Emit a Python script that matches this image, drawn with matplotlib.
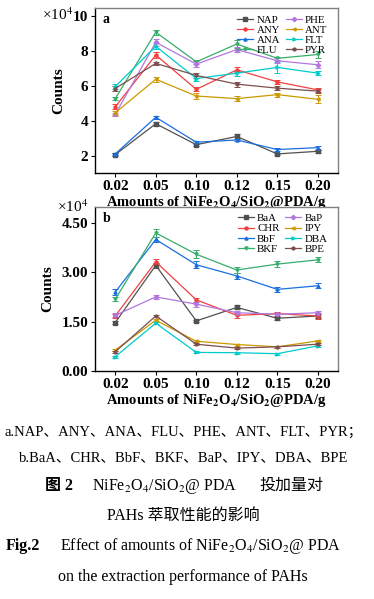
import matplotlib
matplotlib.use("Agg")
import matplotlib.pyplot as plt

plt.rcParams['font.family'] = ['Liberation Serif', 'Noto Sans CJK SC']
plt.rcParams['mathtext.fontset'] = 'stix'

doses = ['0.02', '0.05', '0.10', '0.12', '0.15', '0.20']

# panel a (x10^4 counts)
names_a = ['NAP', 'ANY', 'ANA', 'FLU', 'PHE', 'ANT', 'FLT', 'PYR']
nap = [2.06, 3.83, 2.63, 3.10, 2.10, 2.25]
any_ = [4.80, 7.77, 5.80, 6.92, 6.23, 5.77]
ana = [2.10, 4.20, 2.77, 2.90, 2.35, 2.46]
flu = [5.27, 9.08, 7.38, 8.40, 7.58, 7.80]
phe = [4.37, 8.50, 7.25, 8.08, 7.44, 7.21]
ant = [4.46, 6.38, 5.42, 5.27, 5.50, 5.23]
flt = [5.96, 8.27, 6.42, 6.73, 7.06, 6.73]
pyr = [5.85, 7.29, 6.60, 6.10, 5.87, 5.70]
err_nap = [0.08, 0.12, 0.08, 0.12, 0.08, 0.10]
err_any = [0.15, 0.18, 0.12, 0.15, 0.12, 0.12]
err_ana = [0.08, 0.10, 0.08, 0.08, 0.08, 0.12]
err_flu = [0.10, 0.15, 0.12, 0.25, 0.10, 0.18]
err_phe = [0.10, 0.20, 0.15, 0.15, 0.15, 0.20]
err_ant = [0.12, 0.15, 0.18, 0.15, 0.12, 0.22]
err_flt = [0.12, 0.18, 0.15, 0.15, 0.30, 0.10]
err_pyr = [0.12, 0.10, 0.15, 0.15, 0.12, 0.12]

# panel b (x10^4 counts)
names_b = ['BaA', 'CHR', 'BbF', 'BKF', 'BaP', 'IPY', 'DBA', 'BPE']
baa = [1.47, 3.21, 1.52, 1.93, 1.60, 1.67]
chr_ = [1.67, 3.32, 2.16, 1.69, 1.74, 1.67]
bbf = [2.40, 4.00, 3.23, 2.89, 2.48, 2.59]
bkf = [2.18, 4.20, 3.55, 3.07, 3.25, 3.38]
bap = [1.69, 2.25, 2.03, 1.77, 1.72, 1.77]
ipy = [0.63, 1.54, 0.90, 0.80, 0.73, 0.91]
dba = [0.43, 1.45, 0.56, 0.55, 0.52, 0.76]
bpe = [0.58, 1.67, 0.81, 0.69, 0.73, 0.81]
err_baa = [0.06, 0.08, 0.04, 0.06, 0.04, 0.05]
err_chr = [0.06, 0.08, 0.06, 0.08, 0.06, 0.08]
err_bbf = [0.08, 0.08, 0.10, 0.08, 0.07, 0.08]
err_bkf = [0.06, 0.12, 0.12, 0.08, 0.10, 0.08]
err_bap = [0.06, 0.06, 0.08, 0.05, 0.04, 0.05]
err_ipy = [0.03, 0.04, 0.03, 0.03, 0.03, 0.03]
err_dba = [0.03, 0.04, 0.03, 0.03, 0.03, 0.03]
err_bpe = [0.03, 0.04, 0.03, 0.03, 0.03, 0.03]

colors = ['#515151', '#F14040', '#1A6FDF', '#37AD6B', '#B177DE', '#CC9900', '#00CBCC', '#7D4E4E']
markers = ['s', 'o', '^', 'v', 'D', '<', '>', 'h']

fig = plt.figure(figsize=(3.74, 5.99), dpi=100)
ax_a = fig.add_axes([0.254, 0.711, 0.650, 0.2755])
ax_b = fig.add_axes([0.254, 0.381, 0.650, 0.274])


def draw_panel(ax, names, series, errs, ylim, yticks, ylabels, tag, exp_xy):
    x = list(range(len(doses)))
    handles = []
    for i, (nm, ys, es) in enumerate(zip(names, series, errs)):
        c = ax.errorbar(x, ys, yerr=es, color=colors[i], marker=markers[i], ms=2.2,
                        lw=0.9, elinewidth=0.7, capsize=2, capthick=0.7)
        handles.append(c[0])
    ax.set_xlim(-0.5, 5.5)
    ax.set_ylim(*ylim)
    ax.set_xticks(x)
    ax.set_xticklabels(doses, fontsize=11, fontweight='bold')
    ax.set_yticks(yticks)
    ax.set_yticklabels(ylabels, fontsize=11, fontweight='bold')
    ax.tick_params(direction='out', length=3, width=0.8, top=False, right=False, pad=2)
    ax.set_ylabel('Counts', fontsize=11, fontweight='bold', labelpad=5)
    ax.set_xlabel('Amounts of NiFe$_\\mathbf{2}$O$_\\mathbf{4}$/SiO$_\\mathbf{2}$@PDA/g',
                  fontsize=10.5, fontweight='bold', labelpad=1)
    for s in ['left', 'bottom']:
        ax.spines[s].set_linewidth(1.0)
        ax.spines[s].set_color('black')
    for s in ['top', 'right']:
        ax.spines[s].set_linewidth(1.0)
        ax.spines[s].set_color('#808080')
    ax.text(0.03, 0.97, tag, transform=ax.transAxes, fontsize=10, fontweight='bold',
            va='top', ha='left')
    ax.text(exp_xy[0], exp_xy[1], '×10$^4$', transform=ax.transAxes, fontsize=11,
            va='center', ha='right')
    ax.legend(handles, names, ncol=2, loc='upper right', bbox_to_anchor=(0.985, 1.0),
              frameon=False, fontsize=7.8, handlelength=1.5, handletextpad=0.3,
              columnspacing=0.5, labelspacing=0.05, borderaxespad=0.25)


draw_panel(ax_a, names_a, [nap, any_, ana, flu, phe, ant, flt, pyr],
           [err_nap, err_any, err_ana, err_flu, err_phe, err_ant, err_flt, err_pyr],
           (1.0, 10.46), [2, 4, 6, 8, 10], ['2', '4', '6', '8', '10'], 'a', (-0.09, 0.96))
draw_panel(ax_b, names_b, [baa, chr_, bbf, bkf, bap, ipy, dba, bpe],
           [err_baa, err_chr, err_bbf, err_bkf, err_bap, err_ipy, err_dba, err_bpe],
           (0.0, 5.0), [0, 1.5, 3.0, 4.5], ['0.00', '1.50', '3.00', '4.50'], 'b', (-0.03, 1.0))

# caption
cap = dict(ha='center', va='center', fontsize=10.5)
fig.text(0.49, 1 - 432 / 599, 'a.NAP、ANY、ANA、FLU、PHE、ANT、FLT、PYR；', **cap)
fig.text(0.49, 1 - 458 / 599, 'b.BaA、CHR、BbF、BKF、BaP、IPY、DBA、BPE', **cap)
fig.text(0.12, 1 - 486 / 599, '图 2', fontsize=11.5, fontweight='bold', ha='left', va='center')
fig.text(0.245, 1 - 486 / 599, 'NiFe$_2$O$_4$/SiO$_2$@ PDA', fontsize=11.5,
         ha='left', va='center')
fig.text(0.865, 1 - 486 / 599, '投加量对', fontsize=11.5, ha='right', va='center')
fig.text(0.49, 1 - 516 / 599, 'PAHs 萃取性能的影响', fontsize=11.5, ha='center', va='center')
fig.text(0.015, 1 - 546 / 599, 'Fig.2', fontsize=11.5, fontweight='bold', ha='left', va='center')
fig.text(0.16, 1 - 546 / 599, 'Effect of amounts of NiFe$_2$O$_4$/SiO$_2$@ PDA', fontsize=11.5,
         ha='left', va='center')
fig.text(0.49, 1 - 577 / 599, 'on the extraction performance of PAHs', fontsize=11.5,
         ha='center', va='center')

fig.savefig('out.png', dpi=100)
